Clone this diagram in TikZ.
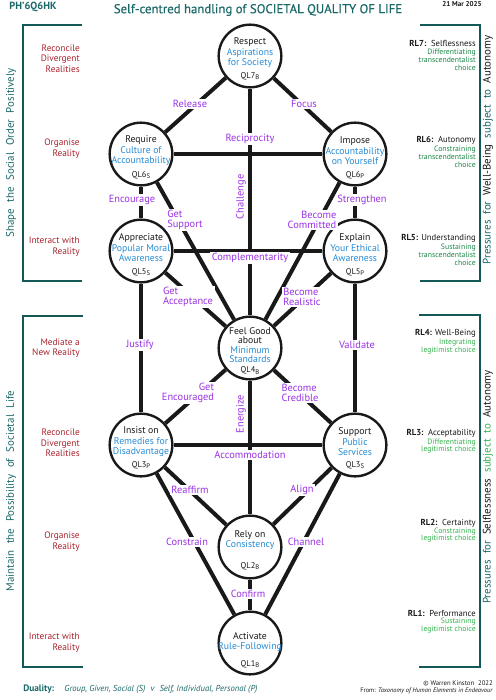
\documentclass[tikz,border=0pt]{standalone}
\usepackage{fontspec}
\setmainfont{PT Sans}
\newfontfamily\titlef{PT Sans}[BoldFont={PT Sans},BoldFeatures={FakeBold=0.35}]
\definecolor{tealc}{RGB}{26,104,104}
\definecolor{purp}{RGB}{155,50,228}
\definecolor{bluec}{RGB}{38,140,214}
\definecolor{redc}{RGB}{170,35,45}
\definecolor{greenA}{RGB}{28,135,72}
\definecolor{greenB}{RGB}{52,180,78}
\definecolor{brk}{RGB}{20,88,88}
\definecolor{inkc}{RGB}{25,25,25}
\pgfdeclarelayer{bgwhite}
\pgfdeclarelayer{edgelayer}
\pgfsetlayers{bgwhite,edgelayer,main}
\newcommand\ql[2]{QL#1\raisebox{-0.45ex}{\fontsize{5}{5}\selectfont #2}}
\newcommand\qn[7]{%
  \node[qnode] (#1) at (#2,#3) {};
  \node[qtxt] (#1t) at (#2,#4) {#6};
  \node[qlab] (#1q) at (#2,#5) {#7};
}
\newcommand\bl[1]{\textcolor{bluec}{#1}}
\begin{document}
\begin{tikzpicture}[x=0.75pt,y=-0.75pt,
  qnode/.style={circle,draw=inkc,line width=1.8pt,minimum size=47pt,inner sep=0pt,fill=white},
  qtxt/.style={align=center,text=inkc,font=\fontsize{7.3}{7.9}\selectfont,inner sep=0pt},
  qlab/.style={text=inkc,font=\fontsize{6.3}{7}\selectfont,inner sep=0pt},
  lbl/.style={text=purp,fill=white,align=center,font=\fontsize{7.8}{7.5}\selectfont,inner sep=1.2pt},
  rlbl/.style={text=purp,align=center,font=\fontsize{7.8}{7.5}\selectfont,inner sep=0pt,rotate=90},
  edge/.style={draw=inkc,line width=3pt},
  brack/.style={draw=brk,line width=1.6pt},
  lefttxt/.style={text=redc,align=right,anchor=east,font=\fontsize{7}{7.8}\selectfont,inner sep=0pt},
  rltitle/.style={text=inkc,align=right,anchor=east,font=\fontsize{6.5}{7}\selectfont,inner sep=0pt},
  grnA/.style={text=greenA,align=right,anchor=east,font=\fontsize{5.8}{6}\selectfont,inner sep=0pt},
  grnB/.style={text=greenB,align=right,anchor=east,font=\fontsize{5.8}{5.6}\selectfont,inner sep=0pt},
  sidetxt/.style={rotate=90,text=tealc,font=\fontsize{8.2}{9}\selectfont,inner sep=0pt},
]
\useasboundingbox (0,0) rectangle (496,700);
\begin{pgfonlayer}{bgwhite}
\fill[white] (0,0) rectangle (496,700);
\end{pgfonlayer}

% header
\node[text=tealc,font=\bfseries\fontsize{7.8}{9}\selectfont,inner sep=0pt] (code) at (33,7) {PH’6Q6HK};
\node[text=tealc,font=\titlef\bfseries\fontsize{9.6}{11}\selectfont,inner sep=0pt] (title) at (258,10) {Self-centred handling of SOCIETAL QUALITY OF LIFE};
\node[text=inkc,font=\bfseries\fontsize{5.3}{6}\selectfont,inner sep=0pt] (date) at (462,4) {21 Mar 2025};

% circles
\qn{ql7}{250}{56}{53}{76}{Respect\\\bl{Aspirations}\\\bl{for Society}}{\ql{7}{B}}
\qn{ql6s}{141}{154}{151}{175}{Require\\\bl{Culture of}\\\bl{Accountability}}{\ql{6}{S}}
\qn{ql6p}{355}{154}{151}{175}{Impose\\\bl{Accountability}\\\bl{on Yourself}}{\ql{6}{P}}
\qn{ql5s}{141}{251}{248}{272}{Appreciate\\\bl{Popular Moral}\\\bl{Awareness}}{\ql{5}{S}}
\qn{ql5p}{355}{251}{248}{272}{Explain\\\bl{Your Ethical}\\\bl{Awareness}}{\ql{5}{P}}
\node[qnode] (ql4) at (250,348) {};
\node[qtxt,font=\fontsize{7.3}{7.2}\selectfont] (ql4t) at (250,345) {Feel Good\\about\\\bl{Minimum}\\\bl{Standards}};
\node[qlab] (ql4q) at (250,370.5) {\ql{4}{B}};
\qn{ql3p}{141}{445}{442}{465}{Insist on\\\bl{Remedies for}\\\bl{Disadvantage}}{\ql{3}{P}}
\qn{ql3s}{355}{445}{442}{465}{Support\\\bl{Public}\\\bl{Services}}{\ql{3}{S}}
\qn{ql2}{250}{547}{540}{566}{Rely on\\\bl{Consistency}}{\ql{2}{B}}
\qn{ql1}{250}{643}{642}{664}{Activate\\\bl{Rule-Following}}{\ql{1}{B}}

% connectors
\begin{pgfonlayer}{edgelayer}
\draw[edge] (ql7) -- (ql6s);
\draw[edge] (ql7) -- (ql6p);
\draw[edge] (ql7) -- (ql4);
\draw[edge] (ql6s) -- (ql6p);
\draw[edge] (ql6s) -- (ql5s);
\draw[edge] (ql6p) -- (ql5p);
\draw[edge] (ql6s) -- (ql4);
\draw[edge] (ql6p) -- (ql4);
\draw[edge] (ql5s) -- (ql5p);
\draw[edge] (ql5s) -- (ql4);
\draw[edge] (ql5p) -- (ql4);
\draw[edge] (ql5s) -- (ql3p);
\draw[edge] (ql5p) -- (ql3s);
\draw[edge] (ql3p) -- (ql4);
\draw[edge] (ql3s) -- (ql4);
\draw[edge] (ql4) -- (ql2);
\draw[edge] (ql3p) -- (ql3s);
\draw[edge] (ql3p) -- (ql2);
\draw[edge] (ql3s) -- (ql2);
\draw[edge] (ql3p) -- (ql1);
\draw[edge] (ql3s) -- (ql1);
\draw[edge] (ql2) -- (ql1);
\end{pgfonlayer}

% connector labels
\node[lbl] (lRelease) at (190,104) {Release};
\node[lbl] (lFocus) at (304,104) {Focus};
\node[lbl] (lRecip) at (250,139) {Reciprocity};
\node[rlbl] (lChallenge) at (241,197) {Challenge};
\node[lbl] (lEncourage) at (132,200) {Encourage};
\node[lbl] (lStrengthen) at (362,200) {Strengthen};
\node[lbl,align=left] (lGetSupport) at (185,220) {Get\\Support};
\node[lbl,align=right] (lCommitted) at (312,220) {Become\\Committed};
\node[lbl] (lCompl) at (250,258) {Complementarity};
\node[lbl,align=left] (lAccept) at (188,297) {Get\\Acceptance};
\node[lbl,align=left] (lRealistic) at (302,297) {Become\\Realistic};
\node[lbl] (lJustify) at (140,345) {Justify};
\node[lbl] (lValidate) at (357,345) {Validate};
\node[lbl,align=right] (lEncouraged) at (188,393) {Get\\Encouraged};
\node[lbl,align=left] (lCredible) at (300,393) {Become\\Credible};
\node[rlbl] (lEnergize) at (241,414) {Energize};
\node[lbl] (lAccom) at (250,455) {Accommodation};
\node[lbl] (lReaffirm) at (190,490) {Reaffirm};
\node[lbl] (lAlign) at (302,490) {Align};
\node[lbl] (lConstrain) at (187,542) {Constrain};
\node[lbl] (lChannel) at (306,542) {Channel};
\node[lbl] (lConfirm) at (248,594) {Confirm};

% brackets
\draw[brack] (82,25) -- (23,25) -- (23,281) -- (82,281);
\draw[brack] (83,316) -- (23,316) -- (23,667) -- (83,667);
\draw[brack] (420,25) -- (480,25) -- (480,281) -- (420,281);
\draw[brack] (419,315) -- (480,315) -- (480,667) -- (419,667);

\node[sidetxt] (sShape) at (11,153) {\spaceskip=0.6em Shape the Social Order Positively};
\node[sidetxt] (sMaintain) at (11,491) {\spaceskip=0.6em Maintain the Possibility of Societal Life};
\node[sidetxt] (sWell) at (488,150) {\spaceskip=0.55em Pressures for \textcolor{inkc}{Well-Being} subject to \textcolor{inkc}{Autonomy}};
\node[sidetxt] (sSelf) at (488,487) {\spaceskip=0.55em Pressures for \textcolor{inkc}{Selflessness} \textcolor{greenB}{subject to} \textcolor{inkc}{Autonomy}};

% left labels
\node[lefttxt] (a1) at (80,58.5) {Reconcile\\Divergent\\Realities};
\node[lefttxt] (a2) at (80,148.5) {Organise\\Reality};
\node[lefttxt] (a3) at (80,246.5) {Interact with\\Reality};
\node[lefttxt] (a4) at (80,348) {Mediate a\\New Reality};
\node[lefttxt] (a5) at (80,443) {Reconcile\\Divergent\\Realities};
\node[lefttxt] (a6) at (80,541.5) {Organise\\Reality};
\node[lefttxt] (a7) at (80,642.5) {Interact with\\Reality};

% right labels
\node[rltitle] (r7) at (476,43) {\textbf{RL7:}\ \ Selflessness};
\node[grnA] (g7) at (476,60) {Differentiating\\transcendentalist\\choice};
\node[rltitle] (r6) at (476,140) {\textbf{RL6:}\ \ Autonomy};
\node[grnA] (g6) at (476,157) {Constraining\\transcendentalist\\choice};
\node[rltitle] (r5) at (476,238) {\textbf{RL5:} Understanding};
\node[grnA] (g5) at (476,255) {Sustaining\\transcendentalist\\choice};
\node[rltitle] (r4) at (476,333) {\textbf{RL4:} Well-Being};
\node[grnB] (g4) at (476,346.5) {Integrating\\legitimist choice};
\node[rltitle] (r3) at (476,433) {\textbf{RL3:}\ \ Acceptability};
\node[grnB] (g3) at (476,446) {Differentiating\\legitimist choice};
\node[rltitle] (r2) at (476,523) {\textbf{RL2:}\ \ Certainty};
\node[grnB] (g2) at (476,535) {Constraining\\legitimist choice};
\node[rltitle] (r1) at (476,613) {\textbf{RL1:}\ \ Performance};
\node[grnB] (g1) at (476,625.5) {Sustaining\\legitimist choice};

% footer
\node[anchor=west,text=tealc,font=\fontsize{7}{8}\selectfont,inner sep=0pt] (dual) at (23,689) {\textbf{Duality:}\hspace{1.1em}{\fontsize{6.5}{8}\selectfont\itshape Group, Given, Social (S)\hspace{0.6em}v\hspace{0.6em}Self, Individual, Personal (P)}};
\node[anchor=east,text=inkc,font=\fontsize{5}{6}\selectfont,inner sep=0pt] (copy) at (493,683) {© Warren Kinston\hspace{0.6em}2022};
\node[anchor=east,text=inkc,font=\fontsize{4.8}{6}\selectfont,inner sep=0pt] (from) at (493,691) {From: \textit{Taxonomy of Human Elements in Endeavour}};
\end{tikzpicture}
\end{document}
